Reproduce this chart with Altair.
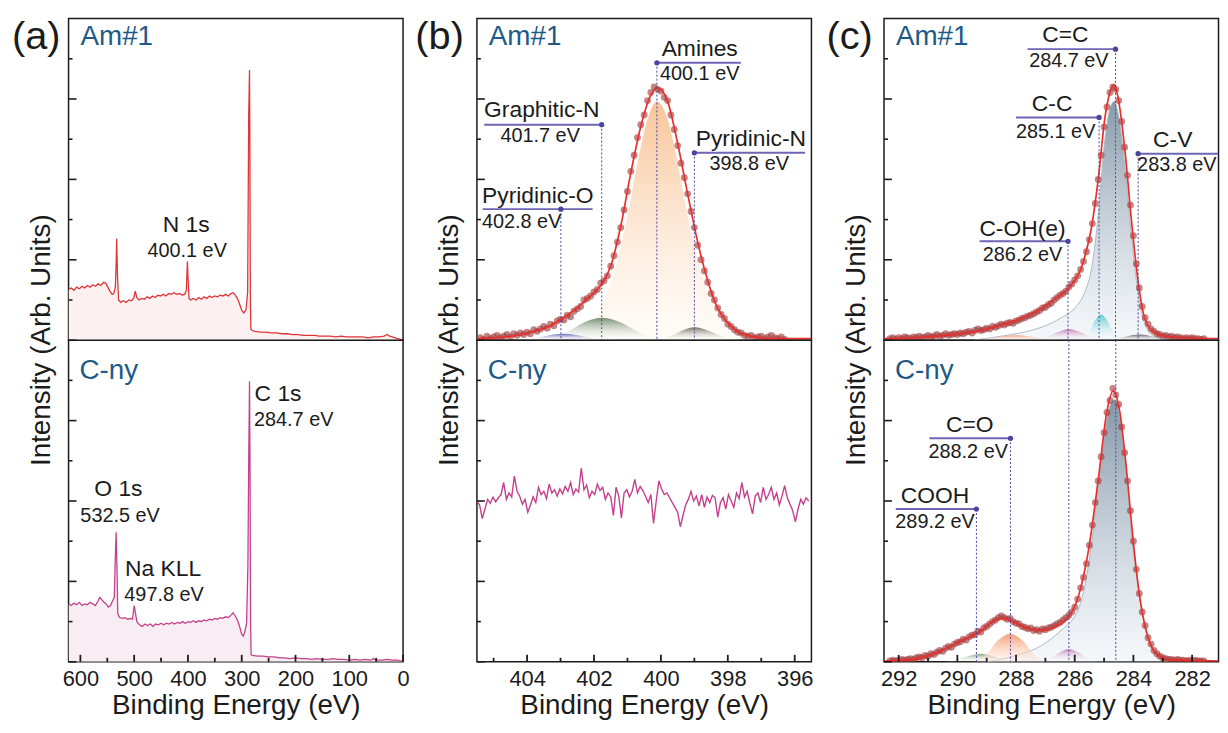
import altair as alt
import pandas as pd

FONT = "Liberation Sans"
W = 337
H = 324
INK = "#1b1b1b"
NAME_C = "#1d5a88"
ANN_LINE = "#6d66b5"
ANN_DOT = "#4b43a0"
VLINE = "#4a47a6"
FIT_C = "#ea2f2b"
PT_C = "#9e3a3c"

# ---------------- (a) survey spectra ----------------
survey_am_ev = [622, 617, 612, 607, 602, 597, 592, 587, 582, 577,
                572, 567, 562, 557, 553, 549, 545, 541, 538, 535,
                533.5, 532.5, 531, 529, 525, 520, 515, 510, 505, 501,
                498, 495, 491, 486, 481, 476, 471, 466, 461, 456,
                451, 446, 441, 436, 431, 426, 421, 416, 411, 406,
                403, 401, 400, 398, 395, 390, 385, 380, 375, 370,
                365, 360, 355, 350, 345, 340, 335, 330, 325, 320,
                316, 312, 308, 304, 300, 296, 292, 289, 287, 285.5,
                284.7, 284, 283, 281, 275, 265, 255, 245, 235, 225,
                215, 205, 195, 185, 175, 165, 155, 145, 135, 125,
                115, 105, 95, 85, 75, 65, 55, 45, 35, 30,
                25, 20, 15, 10, 5, 0]
survey_am_int = [0.63, 0.65, 0.62, 0.66, 0.64, 0.67, 0.65, 0.68, 0.66, 0.69,
                 0.67, 0.70, 0.68, 0.72, 0.71, 0.66, 0.61, 0.57, 0.58, 0.66,
                 0.95, 1.26, 0.80, 0.50, 0.47, 0.49, 0.47, 0.50, 0.49, 0.52,
                 0.61, 0.53, 0.50, 0.52, 0.51, 0.54, 0.52, 0.55, 0.53, 0.56,
                 0.55, 0.57, 0.55, 0.58, 0.57, 0.59, 0.57, 0.58, 0.56, 0.57,
                 0.62, 0.98, 0.80, 0.52, 0.50, 0.52, 0.50, 0.53, 0.51, 0.54,
                 0.52, 0.55, 0.53, 0.55, 0.54, 0.56, 0.55, 0.57, 0.55, 0.58,
                 0.59, 0.56, 0.52, 0.45, 0.37, 0.34, 0.38, 0.60, 2.80, 3.36,
                 2.24, 0.60, 0.14, 0.12, 0.11, 0.10, 0.10, 0.09, 0.09, 0.08,
                 0.08, 0.07, 0.07, 0.06, 0.06, 0.06, 0.05, 0.05, 0.05, 0.04,
                 0.05, 0.04, 0.04, 0.04, 0.04, 0.03, 0.04, 0.04, 0.05, 0.07,
                 0.05, 0.04, 0.03, 0.02, 0.01, 0.0]

survey_cny_ev = [622, 617, 612, 607, 602, 597, 592, 587, 582, 577,
                 572, 567, 564, 560, 556, 552, 548, 544, 540, 537,
                 535, 533.5, 532, 530.5, 527, 522, 517, 512, 507, 503,
                 500, 498, 495, 490, 485, 480, 475, 470, 465, 460,
                 455, 450, 445, 440, 435, 430, 425, 420, 415, 410,
                 405, 400, 395, 390, 385, 380, 375, 370, 365, 360,
                 355, 350, 345, 340, 335, 330, 325, 320, 316, 312,
                 308, 304, 300, 297, 294, 291, 288.5, 287, 285.5, 284.5,
                 283.5, 282.5, 280, 270, 260, 250, 240, 230, 220, 210,
                 200, 190, 180, 170, 160, 150, 140, 130, 120, 110,
                 100, 90, 80, 70, 60, 55, 50, 40, 30, 20,
                 10, 5, 0]
survey_cny_int = [0.72, 0.70, 0.73, 0.71, 0.74, 0.70, 0.72, 0.71, 0.74, 0.72,
                  0.70, 0.76, 0.80, 0.77, 0.74, 0.72, 0.68, 0.70, 0.76, 0.80,
                  1.30, 1.61, 1.20, 0.60, 0.55, 0.54, 0.55, 0.53, 0.54, 0.53,
                  0.70, 0.62, 0.50, 0.46, 0.44, 0.47, 0.45, 0.47, 0.44, 0.47,
                  0.46, 0.48, 0.46, 0.48, 0.47, 0.49, 0.47, 0.49, 0.48, 0.50,
                  0.48, 0.50, 0.49, 0.51, 0.49, 0.51, 0.50, 0.52, 0.51, 0.53,
                  0.52, 0.54, 0.53, 0.55, 0.54, 0.56, 0.55, 0.58, 0.61, 0.57,
                  0.52, 0.44, 0.34, 0.32, 0.38, 0.48, 1.20, 2.50, 3.49, 2.32,
                  0.50, 0.09, 0.08, 0.07, 0.07, 0.06, 0.06, 0.05, 0.05, 0.04,
                  0.05, 0.04, 0.04, 0.03, 0.04, 0.03, 0.03, 0.04, 0.03, 0.03,
                  0.02, 0.03, 0.02, 0.03, 0.02, 0.04, 0.02, 0.02, 0.03, 0.02,
                  0.02, 0.01, 0.01]

# ---------------- (b) N 1s ----------------
# measured points of Am#1, from 405.4 eV downwards every 0.1 eV
n1s_am_pts = [0.03, 0.01, 0.05, 0.02, 0.04, 0.06, 0.03, 0.05, 0.07, 0.04,
              0.08, 0.06, 0.09, 0.07, 0.10, 0.08, 0.13, 0.11, 0.14, 0.17,
              0.15, 0.20, 0.18, 0.24, 0.26, 0.25, 0.31, 0.29, 0.36, 0.39,
              0.42, 0.50, 0.52, 0.55, 0.60, 0.63, 0.71, 0.74, 0.80, 0.92,
              1.05, 1.22, 1.40, 1.62, 1.85, 2.10, 2.30, 2.52, 2.68, 2.80,
              2.98, 3.08, 3.15, 3.12, 3.10, 3.02, 2.98, 2.80, 2.62, 2.42,
              2.20, 2.02, 1.82, 1.60, 1.40, 1.18, 1.00, 0.86, 0.72, 0.58,
              0.50, 0.40, 0.32, 0.27, 0.20, 0.17, 0.13, 0.10, 0.09, 0.06,
              0.05, 0.06, 0.03, 0.04, 0.05, 0.02, 0.04, 0.06, 0.03, 0.02,
              0.04, 0.01]
n1s_fit_ev = [405.5, 405.0, 404.6, 404.2, 403.7, 403.3, 403.0, 402.7, 402.4, 402.1,
              401.8, 401.5, 401.2, 400.9, 400.6, 400.3, 400.1, 399.8, 399.5, 399.2,
              398.9, 398.6, 398.35, 398.05, 397.75, 397.3, 396.8, 396.0, 395.5]
n1s_fit = [0.02, 0.03, 0.04, 0.07, 0.12, 0.18, 0.26, 0.34, 0.44, 0.55,
           0.68, 0.92, 1.42, 2.08, 2.66, 3.05, 3.14, 2.97, 2.45, 1.82,
           1.22, 0.74, 0.44, 0.24, 0.12, 0.05, 0.02, 0.02, 0.02]
n1s_pyo_ev = [404.2, 403.7, 403.2, 402.9, 402.5, 402.0, 401.4]
n1s_pyo = [0.0, 0.03, 0.07, 0.08, 0.06, 0.02, 0.0]
n1s_gra_ev = [403.4, 403.0, 402.6, 402.2, 401.75, 401.2, 400.8, 400.4, 400.0]
n1s_gra = [0.0, 0.06, 0.15, 0.24, 0.28, 0.22, 0.13, 0.05, 0.0]
n1s_ami_ev = [402.6, 402.2, 401.9, 401.6, 401.3, 401.0, 400.7, 400.4, 400.12,
              399.8, 399.5, 399.2, 398.9, 398.6, 398.3, 398.0, 397.6]
n1s_ami = [0.0, 0.12, 0.30, 0.60, 1.00, 1.55, 2.20, 2.75, 2.97,
           2.75, 2.20, 1.55, 1.00, 0.60, 0.30, 0.12, 0.0]
n1s_pyn_ev = [400.0, 399.6, 399.3, 399.0, 398.6, 398.2, 397.8]
n1s_pyn = [0.0, 0.07, 0.13, 0.16, 0.12, 0.05, 0.0]
# C-ny N 1s trace, from 405.5 eV downwards every 0.08 eV
n1s_cny = [2.00, 1.95, 1.78, 1.90, 2.02, 1.97, 2.05, 1.99, 2.04, 2.08,
           2.23, 2.02, 2.10, 2.05, 2.31, 2.12, 2.06, 1.96, 2.02, 1.86,
           1.95, 2.05, 1.98, 2.17, 2.08, 2.12, 2.03, 2.21, 2.10, 2.14,
           2.06, 2.15, 2.09, 2.18, 2.12, 2.23, 2.08, 2.15, 2.11, 2.41,
           2.14, 2.20, 2.04, 2.12, 2.08, 2.21, 2.13, 2.17, 2.02, 2.10,
           2.05, 1.82, 2.17, 2.06, 1.79, 2.10, 2.14, 2.05, 2.12, 2.27,
           2.10, 2.18, 2.13, 2.06, 1.98, 2.08, 1.72, 2.00, 2.25, 2.15,
           2.08, 2.10, 2.04, 1.98, 1.92, 1.86, 1.68, 1.82, 1.95, 2.02,
           2.12, 2.00, 2.06, 1.94, 2.08, 1.92, 2.05, 1.98, 2.07, 2.04,
           1.80, 1.98, 2.04, 1.90, 2.08, 2.00, 1.92, 2.10, 2.03, 2.23,
           2.05, 2.12, 1.97, 1.84, 2.06, 2.10, 1.98, 2.17, 2.02, 2.08,
           2.17, 2.02, 2.10, 1.95, 2.06, 2.19, 2.04, 1.96, 1.88, 1.74,
           1.90, 2.02, 1.96, 2.04, 2.00]

# ---------------- (c) C 1s ----------------
# measured points, from 292.3 eV downwards every 0.1 eV
c1s_am_pts = [0.02, 0.03, 0.01, 0.03, 0.02, 0.04, 0.03, 0.02, 0.04, 0.03,
              0.05, 0.03, 0.04, 0.06, 0.04, 0.05, 0.07, 0.05, 0.06, 0.08,
              0.06, 0.07, 0.08, 0.07, 0.09, 0.08, 0.10, 0.11, 0.09, 0.12,
              0.14, 0.12, 0.13, 0.15, 0.14, 0.17, 0.16, 0.18, 0.20, 0.19,
              0.21, 0.22, 0.21, 0.24, 0.25, 0.27, 0.28, 0.30, 0.31, 0.33,
              0.35, 0.37, 0.40, 0.41, 0.44, 0.46, 0.50, 0.53, 0.56, 0.58,
              0.61, 0.66, 0.70, 0.75, 0.80, 0.88, 0.98, 1.10, 1.25, 1.45,
              1.70, 2.00, 2.30, 2.65, 2.90, 3.08, 3.15, 3.12, 2.98, 2.72,
              2.40, 2.05, 1.68, 1.30, 0.95, 0.65, 0.42, 0.28, 0.20, 0.14,
              0.11, 0.08, 0.07, 0.05, 0.06, 0.04, 0.05, 0.03, 0.04, 0.03,
              0.02, 0.03, 0.02, 0.03, 0.02, 0.02, 0.01, 0.02]
c1s_am_fit_ev = [292.5, 291.5, 290.4, 289.2, 288.6, 287.9, 287.2, 286.65, 286.2, 285.75,
                 285.42, 285.19, 284.97, 284.74, 284.65, 284.52, 284.29, 284.07, 283.84,
                 283.62, 283.3, 282.7, 281.1]
c1s_am_fit = [0.02, 0.03, 0.06, 0.12, 0.18, 0.26, 0.38, 0.52, 0.65, 0.93,
              1.42, 2.03, 2.77, 3.14, 3.18, 3.01, 2.36, 1.50, 0.73,
              0.28, 0.10, 0.04, 0.02]
c1s_am_cc_ev = [289.5, 288.5, 287.5, 287.0, 286.5, 286.0, 285.7, 285.4, 285.2, 285.0,
                284.8, 284.65, 284.5, 284.3, 284.1, 283.9, 283.7, 283.5, 283.2, 282.8]
c1s_am_cc = [0.0, 0.05, 0.12, 0.18, 0.27, 0.40, 0.56, 0.95, 1.55, 2.40,
             2.88, 2.97, 2.78, 2.20, 1.42, 0.74, 0.32, 0.12, 0.03, 0.0]
c1s_am_c_c_ev = [285.8, 285.5, 285.3, 285.1, 284.9, 284.7, 284.45]
c1s_am_c_c = [0.0, 0.10, 0.25, 0.32, 0.25, 0.10, 0.0]
c1s_am_coh_ev = [287.3, 286.9, 286.5, 286.2, 285.9, 285.5, 285.1]
c1s_am_coh = [0.0, 0.05, 0.11, 0.14, 0.11, 0.05, 0.0]
c1s_am_cv_ev = [284.7, 284.2, 283.8, 283.4, 282.9]
c1s_am_cv = [0.0, 0.05, 0.07, 0.05, 0.0]
c1s_am_co_ev = [289.6, 288.9, 288.3, 288.0, 287.6, 287.0, 286.5]
c1s_am_co = [0.0, 0.03, 0.055, 0.06, 0.05, 0.02, 0.0]

c1s_cny_pts = [0.01, 0.02, 0.01, 0.02, 0.03, 0.02, 0.03, 0.04, 0.03, 0.05,
               0.06, 0.05, 0.08, 0.07, 0.10, 0.09, 0.12, 0.14, 0.13, 0.17,
               0.19, 0.18, 0.22, 0.24, 0.25, 0.28, 0.27, 0.31, 0.33, 0.34,
               0.38, 0.37, 0.42, 0.44, 0.47, 0.50, 0.52, 0.55, 0.57, 0.55,
               0.53, 0.54, 0.50, 0.48, 0.47, 0.44, 0.43, 0.41, 0.42, 0.39,
               0.40, 0.38, 0.41, 0.40, 0.42, 0.43, 0.45, 0.47, 0.49, 0.52,
               0.55, 0.58, 0.62, 0.68, 0.78, 0.92, 1.05, 1.22, 1.45, 1.70,
               1.98, 2.25, 2.55, 2.85, 3.10, 3.25, 3.40, 3.32, 3.20, 2.92,
               2.60, 2.25, 1.88, 1.50, 1.15, 0.85, 0.62, 0.45, 0.30, 0.22,
               0.14, 0.10, 0.07, 0.05, 0.04, 0.03, 0.03, 0.02, 0.03, 0.02,
               0.02, 0.01, 0.02, 0.01, 0.02, 0.01, 0.01, 0.01]
c1s_cny_fit_ev = [292.5, 291.5, 290.6, 289.9, 289.2, 288.8, 288.45, 288.1, 287.65, 287.1,
                  286.65, 286.2, 285.87, 285.53, 285.19, 284.91, 284.69, 284.46, 284.24,
                  284.01, 283.79, 283.56, 283.28, 282.83, 281.1]
c1s_cny_fit = [0.01, 0.03, 0.13, 0.26, 0.38, 0.50, 0.54, 0.50, 0.42, 0.39,
               0.44, 0.56, 0.82, 1.39, 2.29, 3.10, 3.37, 3.10, 2.41,
               1.51, 0.82, 0.38, 0.13, 0.03, 0.01]
c1s_cny_cc_ev = [289.0, 288.1, 287.1, 286.5, 285.87, 285.6, 285.4, 285.2, 285.0, 284.8,
                 284.65, 284.5, 284.3, 284.1, 283.9, 283.7, 283.5, 283.2, 282.8]
c1s_cny_cc = [0.0, 0.07, 0.21, 0.38, 0.66, 1.05, 1.55, 2.20, 2.80, 3.18,
              3.26, 3.12, 2.55, 1.70, 1.10, 0.60, 0.30, 0.08, 0.0]
c1s_cny_co_ev = [289.4, 289.0, 288.6, 288.2, 287.8, 287.4, 287.0]
c1s_cny_co = [0.0, 0.10, 0.27, 0.35, 0.27, 0.10, 0.0]
c1s_cny_coh_ev = [287.2, 286.8, 286.5, 286.2, 285.9, 285.6, 285.2]
c1s_cny_coh = [0.0, 0.05, 0.12, 0.16, 0.12, 0.05, 0.0]
c1s_cny_cooh_ev = [290.4, 289.9, 289.5, 289.2, 288.9, 288.5, 288.0]
c1s_cny_cooh = [0.0, 0.04, 0.08, 0.10, 0.08, 0.04, 0.0]

# ---------------- helpers ----------------
YSC = alt.Scale(domain=[0, 4], nice=False, zero=False)


def x_axis(values):
    return alt.Axis(values=values, format="d", ticks=False, domain=False, grid=False,
                    labelFont=FONT, labelFontSize=22, labelColor=INK, labelPadding=7,
                    labelFlush=False, labelOverlap=False,
                    title="Binding Energy (eV)", titleFont=FONT, titleFontSize=28,
                    titleFontWeight="normal", titleColor=INK, titlePadding=2)


def X(ctx, field="ev"):
    dom, axis = ctx
    return alt.X(f"{field}:Q", scale=alt.Scale(domain=dom, reverse=True, nice=False, zero=False),
                 axis=axis)


def Y(field="v"):
    return alt.Y(f"{field}:Q", scale=YSC, axis=None)


def df2(ev, v):
    return pd.DataFrame({"ev": ev, "v": v})


def line(ctx, ev, v, color, width=1.4, interp="linear", opacity=1.0):
    return alt.Chart(df2(ev, v)).mark_line(color=color, strokeWidth=width, interpolate=interp,
                                           opacity=opacity, clip=True).encode(x=X(ctx), y=Y())


def fill(ctx, ev, v, color):
    return alt.Chart(df2(ev, v)).mark_area(color=color, clip=True).encode(x=X(ctx), y=Y())


def grad(ctx, ev, v, top, bottom="rgba(255,255,255,0.15)", opacity=0.95):
    g = alt.Gradient(gradient="linear",
                     stops=[alt.GradientStop(color=top, offset=0),
                            alt.GradientStop(color=bottom, offset=1)],
                     x1=0, x2=0, y1=0, y2=1)
    return alt.Chart(df2(ev, v)).mark_area(color=g, interpolate="monotone", opacity=opacity,
                                           clip=True).encode(x=X(ctx), y=Y())


def points(ctx, start, step, v):
    ev = [round(start - step * i, 2) for i in range(len(v))]
    return alt.Chart(df2(ev, v)).mark_circle(color=PT_C, opacity=0.62, size=48,
                                             clip=True).encode(x=X(ctx), y=Y())


def yticks():
    maj = alt.Chart(pd.DataFrame({"v": [0, 1, 2, 3]})).mark_rule(
        color=INK, strokeWidth=1.6).encode(y=Y(), x=alt.value(0), x2=alt.value(8))
    mn = alt.Chart(pd.DataFrame({"v": [0.5, 1.5, 2.5, 3.5]})).mark_rule(
        color=INK, strokeWidth=1.6).encode(y=Y(), x=alt.value(0), x2=alt.value(4))
    return [maj, mn]


def xticks(ctx, major, minor):
    maj = alt.Chart(pd.DataFrame({"ev": major})).mark_rule(color=INK, strokeWidth=1.8).encode(
        x=X(ctx), y=alt.value(H), y2=alt.value(H - 7))
    mn = alt.Chart(pd.DataFrame({"ev": minor})).mark_rule(color=INK, strokeWidth=1.8).encode(
        x=X(ctx), y=alt.value(H), y2=alt.value(H - 4))
    return [maj, mn]


def text(ctx, ev, v, s, size, align="center"):
    d = pd.DataFrame({"ev": [ev], "v": [v], "t": [s]})
    return alt.Chart(d).mark_text(font=FONT, fontSize=size, align=align, baseline="alphabetic",
                                  color=INK).encode(x=X(ctx), y=Y(), text="t:N")


def marker(ctx, ev_dot, ev_a, ev_b, v, v_low=0.0):
    drop = alt.Chart(pd.DataFrame({"ev": [ev_dot], "v": [v], "v0": [v_low]})).mark_rule(
        color=VLINE, strokeWidth=1, strokeDash=[2, 2]).encode(x=X(ctx), y=Y(), y2="v0:Q")
    h = alt.Chart(pd.DataFrame({"ev": [ev_a], "ev2": [ev_b], "v": [v]})).mark_rule(
        color=ANN_LINE, strokeWidth=2, clip=True).encode(x=X(ctx), x2="ev2:Q", y=Y())
    dot = alt.Chart(pd.DataFrame({"ev": [ev_dot], "v": [v]})).mark_circle(
        color=ANN_DOT, size=28, opacity=1).encode(x=X(ctx), y=Y())
    return [drop, h, dot]


def ptext(x, y, s, size, color=INK, align="left", angle=None):
    kw = dict(font=FONT, fontSize=size, align=align, baseline="alphabetic", color=color)
    if angle is not None:
        kw.update(angle=angle, baseline="middle")
    return alt.Chart(pd.DataFrame({"t": [s]})).mark_text(**kw).encode(
        x=alt.value(x), y=alt.value(y), text="t:N")


def panel(layers):
    return alt.layer(*layers).properties(width=W, height=H)


YTITLE = "Intensity (Arb. Units)"

# ---------------- column (a) ----------------
A_DOM = [0, 622]
cA_t = (A_DOM, None)
cA_b = (A_DOM, x_axis([600, 500, 400, 300, 200, 100, 0]))

topA = panel([
    fill(cA_t, survey_am_ev, survey_am_int, "#fdf0f0"),
    line(cA_t, survey_am_ev, survey_am_int, "#df3538", 1.3),
    *yticks(),
    text(cA_t, 403.3, 1.34, "N 1s", 23),
    text(cA_t, 401.5, 1.03, "400.1 eV", 20),
    ptext(12, 27, "Am#1", 28, NAME_C),
    ptext(-57, 31, "(a)", 40),
])
botA = panel([
    fill(cA_b, survey_cny_ev, survey_cny_int, "#f8edf3"),
    line(cA_b, survey_cny_ev, survey_cny_int, "#c4408c", 1.3),
    *yticks(),
    *xticks(cA_b, [600, 500, 400, 300, 200, 100, 0], [550, 450, 350, 250, 150, 50]),
    text(cA_b, 276.1, 3.24, "C 1s", 23, "left"),
    text(cA_b, 277.2, 2.93, "284.7 eV", 20, "left"),
    text(cA_b, 529.3, 2.06, "O 1s", 23),
    text(cA_b, 526.2, 1.74, "532.5 eV", 20),
    text(cA_b, 517.0, 1.07, "Na KLL", 23, "left"),
    text(cA_b, 518.3, 0.76, "497.8 eV", 20, "left"),
    ptext(11, 39, "C-ny", 28, NAME_C),
    ptext(-27, 0, YTITLE, 28, align="center", angle=270),
])

# ---------------- column (b) ----------------
B_DOM = [395.5, 405.5]
cB_t = (B_DOM, None)
cB_b = (B_DOM, x_axis([404, 402, 400, 398, 396]))
n1s_cny_ev = [round(405.5 - 0.08 * i, 2) for i in range(len(n1s_cny))]

topB = panel([
    grad(cB_t, n1s_ami_ev, n1s_ami, "#f8c192", "rgba(255,248,240,0.45)"),
    grad(cB_t, n1s_gra_ev, n1s_gra, "#6a8866"),
    grad(cB_t, n1s_pyn_ev, n1s_pyn, "#6f6d58"),
    grad(cB_t, n1s_pyo_ev, n1s_pyo, "#5a60b4"),
    points(cB_t, 405.4, 0.1, n1s_am_pts),
    line(cB_t, n1s_fit_ev, n1s_fit, FIT_C, 1.7, "monotone"),
    *yticks(),
    *marker(cB_t, 400.12, 400.12, 397.61, 3.45),
    text(cB_t, 398.84, 3.54, "Amines", 23),
    text(cB_t, 398.84, 3.23, "400.1 eV", 20),
    *marker(cB_t, 401.77, 405.28, 401.77, 2.68),
    text(cB_t, 403.56, 2.77, "Graphitic-N", 23),
    text(cB_t, 403.61, 2.46, "401.7 eV", 20),
    *marker(cB_t, 399.0, 399.0, 395.69, 2.33),
    text(cB_t, 397.31, 2.42, "Pyridinic-N", 23),
    text(cB_t, 397.36, 2.12, "398.8 eV", 20),
    *marker(cB_t, 402.99, 405.33, 402.04, 1.63),
    text(cB_t, 403.68, 1.71, "Pyridinic-O", 23),
    text(cB_t, 405.35, 1.39, "402.8 eV", 20, "left"),
    ptext(12, 27, "Am#1", 28, NAME_C),
    ptext(-62, 31, "(b)", 40),
])
botB = panel([
    line(cB_b, n1s_cny_ev, n1s_cny, "#c4408c", 1.4),
    *yticks(),
    *xticks(cB_b, [404, 402, 400, 398, 396], [405, 403, 401, 399, 397]),
    ptext(11, 39, "C-ny", 28, NAME_C),
    ptext(-27, 0, YTITLE, 28, align="center", angle=270),
])

# ---------------- column (c) ----------------
C_DOM = [281.1, 292.5]
cC_t = (C_DOM, None)
cC_b = (C_DOM, x_axis([292, 290, 288, 286, 284, 282]))

topC = panel([
    grad(cC_t, c1s_am_cc_ev, c1s_am_cc, "#8194a6", "rgba(238,243,247,0.6)"),
    line(cC_t, c1s_am_cc_ev, c1s_am_cc, "#a8bac6", 1.0, "monotone"),
    grad(cC_t, c1s_am_co_ev, c1s_am_co, "#f59b74"),
    grad(cC_t, c1s_am_coh_ev, c1s_am_coh, "#c07cb2"),
    grad(cC_t, c1s_am_c_c_ev, c1s_am_c_c, "#55c9cd"),
    grad(cC_t, c1s_am_cv_ev, c1s_am_cv, "#555555"),
    points(cC_t, 292.3, 0.1, c1s_am_pts),
    line(cC_t, c1s_am_fit_ev, c1s_am_fit, FIT_C, 1.7, "monotone"),
    *yticks(),
    *marker(cC_t, 284.61, 287.61, 284.61, 3.62),
    text(cC_t, 286.32, 3.71, "C=C", 23),
    text(cC_t, 286.2, 3.40, "284.7 eV", 20),
    *marker(cC_t, 285.17, 288.0, 285.17, 2.77),
    text(cC_t, 286.77, 2.85, "C-C", 23),
    text(cC_t, 286.65, 2.52, "285.1 eV", 20),
    *marker(cC_t, 283.84, 283.84, 281.1, 2.32),
    text(cC_t, 282.66, 2.40, "C-V", 23),
    text(cC_t, 282.52, 2.10, "283.8 eV", 20),
    *marker(cC_t, 286.23, 289.24, 286.23, 1.23),
    text(cC_t, 287.78, 1.29, "C-OH(e)", 23),
    text(cC_t, 287.78, 0.99, "286.2 eV", 20),
    ptext(12, 27, "Am#1", 28, NAME_C),
    ptext(-58, 31, "(c)", 40),
])
botC = panel([
    grad(cC_b, c1s_cny_cc_ev, c1s_cny_cc, "#7d90a2", "rgba(238,243,247,0.6)"),
    line(cC_b, c1s_cny_cc_ev, c1s_cny_cc, "#a8bac6", 1.0, "monotone"),
    grad(cC_b, c1s_cny_cooh_ev, c1s_cny_cooh, "#7c9c7c"),
    grad(cC_b, c1s_cny_co_ev, c1s_cny_co, "#f69a70", "rgba(255,236,226,0.4)"),
    grad(cC_b, c1s_cny_coh_ev, c1s_cny_coh, "#c38abd"),
    points(cC_b, 292.3, 0.1, c1s_cny_pts),
    line(cC_b, c1s_cny_fit_ev, c1s_cny_fit, FIT_C, 1.7, "monotone"),
    *yticks(),
    *xticks(cC_b, [292, 290, 288, 286, 284, 282], [291, 289, 287, 285, 283]),
    *marker(cC_b, 288.19, 290.95, 288.19, 2.78),
    text(cC_b, 289.58, 2.86, "C=O", 23),
    text(cC_b, 289.63, 2.54, "288.2 eV", 20),
    *marker(cC_b, 289.35, 292.1, 289.35, 1.90),
    text(cC_b, 290.76, 1.98, "COOH", 23),
    text(cC_b, 290.76, 1.67, "289.2 eV", 20),
    *marker(cC_b, 286.2, 286.2, 286.2, 4.0)[:1],
    *marker(cC_b, 284.6, 284.6, 284.6, 4.0)[:1],
    ptext(11, 39, "C-ny", 28, NAME_C),
    ptext(-27, 0, YTITLE, 28, align="center", angle=270),
])

colA = alt.vconcat(topA, botA, spacing=0, bounds="flush")
colB = alt.vconcat(topB, botB, spacing=0, bounds="flush")
colC = alt.vconcat(topC, botC, spacing=0, bounds="flush")

left_pair = alt.hconcat(colA, colB, spacing=4.4)
chart = alt.hconcat(left_pair, colC, spacing=11.5).properties(
    padding={"left": 3, "top": 6, "right": 0, "bottom": 0}
).configure_view(stroke=INK, strokeWidth=1.5)

chart.save("out.html", embed_options={"renderer": "svg", "actions": False})
